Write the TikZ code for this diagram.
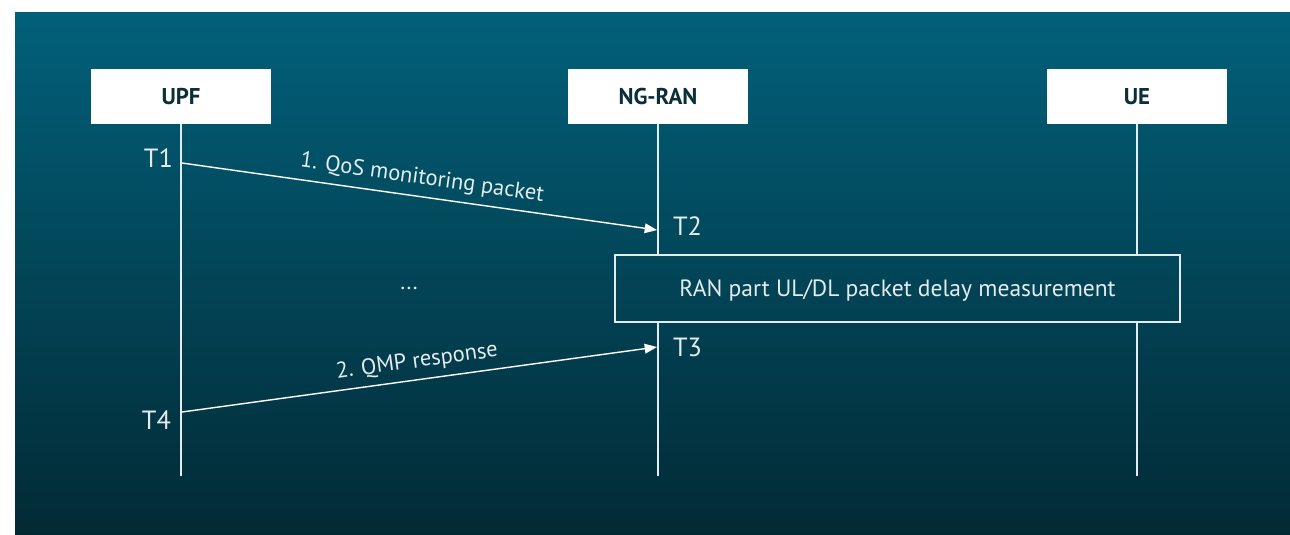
\documentclass[tikz,border=0pt]{standalone}
\usepackage{fontspec}
\setmainfont{PT Sans}
\usetikzlibrary{arrows.meta, positioning}
\definecolor{bgTop}{HTML}{02607A}
\definecolor{bgBottom}{HTML}{022A35}
\definecolor{boxText}{HTML}{0B2E38}
\definecolor{lineGrey}{HTML}{E4ECEE}
\tikzstyle{fEntity} = [rectangle, fill=white, minimum width=3.6cm, minimum height=1.1cm, inner sep=0pt, text=boxText, font=\bfseries\fontsize{13}{15}\selectfont]
\tikzstyle{fLife} = [draw=lineGrey, line width=1.1pt]
\tikzstyle{fTime} = [text=lineGrey, inner sep=1pt, font=\fontsize{15}{17}\selectfont]
\tikzstyle{fLabel} = [text=lineGrey, inner sep=3pt, font=\fontsize{12.8}{15}\selectfont]
\tikzstyle{fMeasure} = [rectangle, draw=lineGrey, line width=1pt, minimum width=11.3cm, minimum height=1.34cm, text=lineGrey, text depth=0pt, font=\fontsize{13.4}{15}\selectfont]
\tikzstyle{fArrow} = [draw=white, line width=0.8pt, -{Triangle[length=7pt, width=5.5pt]}]

\begin{document}
\begin{tikzpicture}[x=0.02cm, y=-0.02cm]
    \useasboundingbox (0,0) rectangle (1290,534);
    \shade[top color=bgTop, bottom color=bgBottom] (15,12) rectangle (1290,534);

    \node (upf) [fEntity] at (181,96.5) {UPF};
    \node (ngran) [fEntity] at (658,96.5) {NG-RAN};
    \node (ue) [fEntity] at (1137,96.5) {UE};

    \node (meas) [fMeasure] at (897.5,288.5) {RAN part UL/DL packet delay measurement};

    \coordinate (upfEnd) at (181,476);
    \coordinate (ngranEnd) at (658,476);
    \coordinate (ueEnd) at (1137,476);

    % lifelines
    \draw [fLife] (upf.south) -- (upfEnd);
    \draw [fLife] (ngran.south) -- (ngran.south |- meas.north);
    \draw [fLife] (ngran.south |- meas.south) -- (ngranEnd);
    \draw [fLife] (ue.south) -- (ue.south |- meas.north);
    \draw [fLife] (ue.south |- meas.south) -- (ueEnd);

    \coordinate (a1s) at (182,163);
    \coordinate (a1e) at (657,230);
    \coordinate (a2s) at (182,412);
    \coordinate (a2e) at (657,347);

    \node (t1) [fTime, anchor=east] at (175,158) {T1};
    \node (t2) [fTime, anchor=west] at (671,226) {T2};
    \node (t3) [fTime, anchor=west] at (671,347) {T3};
    \node (t4) [fTime, anchor=east] at (173,420) {T4};
    \node (dots) [fLabel] at (409,288) {...};

    \draw [fArrow] (a1s) -- node[fLabel, midway, above, sloped, yshift=1pt] {1. QoS monitoring packet} (a1e);
    \draw [fArrow] (a2s) -- node[fLabel, midway, above, sloped, yshift=1pt] {2. QMP response} (a2e);
\end{tikzpicture}
\end{document}
